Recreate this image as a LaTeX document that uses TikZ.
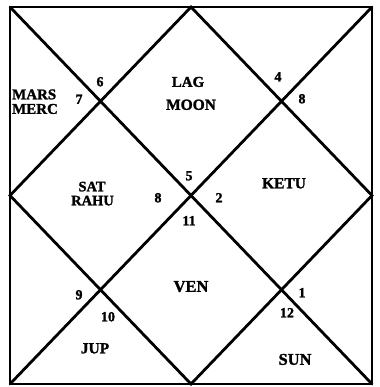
\documentclass[tikz,border=0pt]{standalone}
\usepackage{fontspec}
\setmainfont[BoldFeatures={FakeBold=1.6}]{Liberation Serif}
\newcommand{\fs}[1]{\fontsize{#1}{#1}\selectfont\bfseries}
\begin{document}
\begin{tikzpicture}[x=1bp,y=-1bp,
  frame/.style={line width=2.8bp,line cap=round,line join=miter},
  thinedge/.style={line width=1.2bp},
  lbl/.style={inner sep=0pt,text height=1.45ex,text depth=0pt},
  num/.style={font=\fs{14},inner sep=0pt,text height=1.45ex,text depth=0pt}]
\useasboundingbox (0,0) rectangle (380,387);
\coordinate (TL) at (10,7);
\coordinate (TR) at (372,7);
\coordinate (BL) at (10,384);
\coordinate (BR) at (372,384);
\coordinate (T) at (191,7);
\coordinate (L) at (10,195.5);
\coordinate (R) at (372,195.5);
\coordinate (B) at (191,384);
\draw[frame] (BL) -- (TL) -- (TR) -- (BR);
\draw[thinedge] (BL) -- (BR);
\draw[frame] (TL) -- (BR);
\draw[frame] (TR) -- (BL);
\draw[frame] (T) -- (L) -- (B) -- (R) -- cycle;
% labels
\node[lbl,font=\fs{15},anchor=west] (mars) at (12,96) {MARS};
\node[lbl,font=\fs{15},anchor=west] (merc) at (12,110.5) {MERC};
\node[lbl,font=\fs{15}] (lag) at (188,83.5) {LAG};
\node[lbl,font=\fs{15.5}] (moon) at (191,106.5) {MOON};
\node[lbl,font=\fs{14.5}] (sat) at (92,188) {SAT};
\node[lbl,font=\fs{14.5}] (rahu) at (92.5,202) {RAHU};
\node[lbl,font=\fs{15.5}] (ketu) at (284,185) {KETU};
\node[lbl,font=\fs{16.5}] (ven) at (191,288.5) {VEN};
\node[lbl,font=\fs{15.5}] (jup) at (95,350) {JUP};
\node[lbl,font=\fs{16.5}] (sun) at (295,361.5) {SUN};
% numbers
\node[num] (n6) at (100,83) {6};
\node[num] (n7) at (79,100.5) {7};
\node[num] (n4) at (278,78) {4};
\node[num] (n8a) at (302,100) {8};
\node[num] (n5) at (189,177) {5};
\node[num] (n8b) at (158,199) {8};
\node[num] (n2) at (219,199) {2};
\node[num] (n11) at (189,222) {11};
\node[num] (n9) at (79,296) {9};
\node[num] (n10) at (108,318) {10};
\node[num] (n1) at (302,294) {1};
\node[num] (n12) at (287,314) {12};
\end{tikzpicture}
\end{document}
